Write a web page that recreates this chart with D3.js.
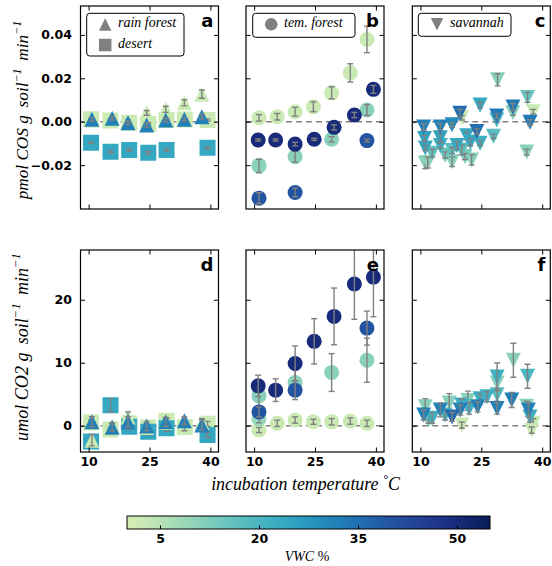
<!DOCTYPE html>
<html><head><meta charset="utf-8">
<script src="https://cdn.jsdelivr.net/npm/d3@7"></script>
<style>body{margin:0;background:#fff} svg{display:block}</style>
</head><body>
<svg id="chart" width="552" height="566"></svg>
<script>
// ================= DATA =================
const xTicks = [10, 25, 40];
const cosTicks = [-0.02, 0, 0.02, 0.04];
const co2Ticks = [0, 10, 20];
const vwcTicks = [5, 20, 35, 50];
const panelLetters = ["a", "b", "c", "d", "e", "f"];

// --- rain forest (triangles) & desert (squares) ---
const rfTemps = [10.8, 15.8, 19.7, 24.3, 29.0, 33.6, 37.9];
const deTemps = [10.6, 15.4, 20.0, 24.7, 29.2, 33.7, 39.3];
const rfWetVWC = 32, rfDryVWC = 2, deWetVWC = 24, deDryVWC = 2;

const rfWetCOS = [0.0011, 0.0016, -0.0005, -0.0015, 0.0008, 0.0011, 0.0023];
const rfWetCOSErr = [0.0008, 0.0008, 0.0008, 0.0010, 0.0008, 0.0008, 0.0010];
const rfDryCOS = [0.0008, 0.0012, 0.0000, 0.0041, 0.0057, 0.0087, 0.0127];
const rfDryCOSErr = [0.0008, 0.0008, 0.0008, 0.0011, 0.0014, 0.0014, 0.0019];
const deWetCOS = [-0.0097, -0.0138, -0.0130, -0.0143, -0.0130, null, -0.0120];
const deWetCOSErr = [0.0004, 0.0005, 0.0005, 0.0006, 0.0005, null, 0.0005];
const deDryCOS = [0.0011, 0.0006, -0.0005, -0.0010, 0.0008, 0.0010, 0.0008];
const deDryCOSErr = [0.0005, 0.0005, 0.0005, 0.0005, 0.0005, 0.0005, 0.0005];

const rfWetCO2 = [0.63, -0.25, 0.63, -0.05, 0.63, 0.79, 0.11];
const rfWetCO2Err = [0.8, 0.6, 0.8, 0.7, 0.7, 0.6, 0.8];
const rfDryCO2 = [-2.3, -0.1, 1.4, -0.3, 0.5, -0.2, 0.5];
const rfDryCO2Err = [0.9, 0.6, 0.8, 0.6, 0.6, 0.6, 0.6];
const deWetCO2 = [-2.5, 3.27, -0.15, -0.95, -0.4, null, -1.47];
const deWetCO2Err = [0.5, 1.0, 0.5, 0.5, 0.5, null, 0.4];
const deDryCO2 = [0.5, -0.6, 0.4, -0.3, 0.8, -0.2, 0.3];
const deDryCO2Err = [0.4, 0.4, 0.4, 0.4, 0.4, 0.4, 0.4];

// --- temperate forest (circles) ---
const tfDryVWC = 2, tfExtraVWC = 9, tfMidVWC = 11, tfBlueVWC = 40, tfNavyVWC = 50;
const tfDryTemps = [11.2, 15.7, 20.1, 24.6, 29.1, 33.7, 37.8];
const tfDryCOS = [0.0018, 0.0023, 0.0046, 0.0069, 0.0133, 0.0225, 0.0379];
const tfDryCOSErr = [0.0015, 0.0015, 0.0020, 0.0023, 0.0028, 0.0042, 0.0061];
const tfDryCO2 = [-0.68, 0.38, 0.90, 0.63, 0.63, 0.74, 0.38];
const tfDryCO2Err = [0.4, 0.5, 0.5, 0.4, 0.5, 0.5, 0.5];
const tfExtraTemps = [11.2];
const tfExtraCOS = [-0.0200];
const tfExtraCOSErr = [0.0010];
const tfExtraCO2 = [1.06];
const tfExtraCO2Err = [0.6];
const tfMidTemps = [11.2, 20.1, 29.1, 37.8];
const tfMidCOS = [-0.0204, -0.0161, -0.0081, 0.0054];
const tfMidCOSErr = [0.0031, 0.0025, 0.0012, 0.0025];
const tfMidCO2 = [4.75, 6.87, 8.45, 10.4];
const tfMidCO2Err = [2.1, 2.0, 3.0, 3.5];
const tfBlueTemps = [11.2, 20.1, 37.8];
const tfBlueCOS = [-0.0352, -0.0326, -0.0087];
const tfBlueCOSErr = [0.0025, 0.0020, 0.0006];
const tfBlueCO2 = [2.2, 5.65, 15.5];
const tfBlueCO2Err = [0.8, 1.5, 2.7];
const tfNavyTemps = [11.0, 15.3, 20.1, 24.8, 29.7, 34.7, 39.4];
const tfNavyCOS = [-0.0084, -0.0084, -0.0103, -0.0081, -0.0026, 0.0031, 0.0149];
const tfNavyCOSErr = [0.0005, 0.0005, 0.0008, 0.0005, 0.0012, 0.0012, 0.0018];
const tfNavyCO2 = [6.33, 5.65, 9.87, 13.4, 17.36, 22.5, 23.6];
const tfNavyCO2Err = [1.7, 1.8, 2.8, 3.6, 4.5, 5.6, 6.3];

// --- savannah (down triangles), panel c (COS) ---
const savCTemps = [29.0, 36.4, 24.7, 19.7, 20.2, 32.8, 32.8, 37.8, 28.8, 28.8, 37.0, 10.8, 14.9, 17.8, 23.9, 28.0, 11.0, 14.9, 21.4, 11.2, 14.9, 19.0, 22.3, 24.7, 17.8, 20.2, 12.9, 11.2, 11.8, 17.8, 22.6, 36.2, 21.0, 16.1];
const savCVWC = [11, 15, 24, 35, 2, 33, 11, 2, 33, 20, 33, 32, 32, 30, 35, 18, 25, 25, 24, 24, 22, 24, 24, 22, 17, 17, 16, 11, 11, 11, 11, 11, 13, 15];
const savCOS = [0.0193, 0.0112, 0.0077, 0.0039, 0.0018, 0.0068, 0.0041, 0.0046, 0.0026, 0.0008, -0.0003, -0.0024, -0.0024, -0.0014, -0.0045, -0.0067, -0.0077, -0.0074, -0.0065, -0.0121, -0.0110, -0.0110, -0.0095, -0.0099, -0.0133, -0.0130, -0.0145, -0.0191, -0.0188, -0.0184, -0.0176, -0.0140, -0.0160, -0.0153];
const savCOSErr = [0.0028, 0.0023, 0.0013, 0.0018, 0.0010, 0.0016, 0.0012, 0.0011, 0.0010, 0.0011, 0.0012, 0.0015, 0.0015, 0.0010, 0.0012, 0.0010, 0.0014, 0.0018, 0.0018, 0.0012, 0.0012, 0.0018, 0.0016, 0.0012, 0.0014, 0.0022, 0.0018, 0.0025, 0.0025, 0.0022, 0.0024, 0.0014, 0.0014, 0.0014];

// --- savannah, panel f (CO2) ---
const savFTemps = [32.9, 28.9, 28.9, 36.4, 32.5, 28.9, 28.9, 24.7, 24.1, 21.7, 17.1, 11.2, 10.8, 14.9, 19.8, 17.8, 12.9, 16.1, 20.2, 22.0, 20.2, 36.6, 37.0, 36.2, 37.8, 37.4, 12.0, 26.4];
const savFVWC = [11, 22, 11, 20, 32, 18, 32, 22, 32, 11, 11, 11, 32, 32, 32, 36, 22, 20, 22, 22, 2, 32, 22, 11, 2, 2, 15, 22];
const savCO2 = [10.4, 7.75, 6.8, 7.85, 4.1, 4.9, 2.75, 4.3, 3.0, 4.0, 3.6, 3.0, 1.7, 2.5, 2.5, 1.4, 1.2, 1.7, 3.3, 2.75, 0.1, 2.5, 1.4, 3.1, 0.4, -0.7, 1.0, 4.6];
const savCO2Err = [2.7, 2.2, 1.5, 1.9, 1.2, 1.0, 0.9, 0.8, 0.8, 1.5, 1.5, 1.3, 0.8, 1.1, 0.8, 0.7, 0.8, 0.8, 0.9, 0.9, 0.5, 1.1, 0.8, 0.8, 0.7, 0.5, 0.6, 0.8];

// ================= DRAWING =================
const svg = d3.select("#chart");
const GREY = "#808080";
const FONT_SANS = "'DejaVu Sans', sans-serif";
const FONT_SERIF = "'Liberation Serif', 'DejaVu Serif', serif";
const vwcMax = 55;
const colorOf = v => d3.interpolateYlGnBu(0.2 + 0.8 * Math.max(0, Math.min(1, v / vwcMax)));

const colX = [80.5, 246, 412.3];
const pw = 138;
const rows = [{y0: 6, h: 203}, {y0: 250, h: 202}];
const xDomain = [8, 42];
const cosDomain = [-0.0402, 0.0533];
const co2Domain = [-4.17, 27.9];

function series(shape, vwc, temps, vals, errs) {
  const out = [];
  temps.forEach((t, i) => {
    if (vals[i] === null || vals[i] === undefined) return;
    out.push({shape, vwc, t, v: vals[i], e: errs[i]});
  });
  return out;
}
function pointsFrom(shape, temps, vwcs, vals, errs) {
  return temps.map((t, i) => ({shape, vwc: vwcs[i], t, v: vals[i], e: errs[i]}))
    .sort((a, b) => a.vwc - b.vwc);
}

function markerPath(shape, s) {
  const h = s / 2;
  if (shape === "tri") return `M0,${-h}L${h},${h}L${-h},${h}Z`;
  if (shape === "dtri") return `M0,${h}L${h},${-h}L${-h},${-h}Z`;
  if (shape === "sq") return `M${-h},${-h}H${h}V${h}H${-h}Z`;
  return d3.symbol(d3.symbolCircle, Math.PI * h * h)();
}
const markerSize = {tri: 15, dtri: 15, sq: 16, circ: 15};

let clipId = 0;
function drawPanel(col, row, yScale, yTicks, yFmt, items, letter) {
  const x0 = colX[col], y0 = rows[row].y0, h = rows[row].h;
  const x = d3.scaleLinear().domain(xDomain).range([x0, x0 + pw]);
  const y = yScale.copy().range([y0 + h, y0]);
  const g = svg.append("g");
  const cid = "clip" + (clipId++);
  g.append("clipPath").attr("id", cid).append("rect")
    .attr("x", x0).attr("y", y0).attr("width", pw).attr("height", h);
  const pg = g.append("g").attr("clip-path", `url(#${cid})`);
  // zero line
  pg.append("line").attr("x1", x0).attr("x2", x0 + pw)
    .attr("y1", y(0)).attr("y2", y(0))
    .attr("stroke", GREY).attr("stroke-width", 1.5).attr("stroke-dasharray", "6,4");
  // markers + error bars (per series)
  items.forEach(ser => {
    ser.forEach(p => {
      pg.append("path").attr("d", markerPath(p.shape, markerSize[p.shape]))
        .attr("transform", `translate(${x(p.t)},${y(p.v)})`)
        .attr("fill", colorOf(p.vwc));
    });
    ser.forEach(p => {
      const cx = x(p.t), ya = y(p.v - p.e), yb = y(p.v + p.e);
      const eg = pg.append("g").attr("stroke", GREY).attr("stroke-width", 1.4).attr("fill", "none");
      eg.append("line").attr("x1", cx).attr("x2", cx).attr("y1", ya).attr("y2", yb);
      eg.append("line").attr("x1", cx - 3).attr("x2", cx + 3).attr("y1", ya).attr("y2", ya);
      eg.append("line").attr("x1", cx - 3).attr("x2", cx + 3).attr("y1", yb).attr("y2", yb);
    });
  });
  // axes (ticks inward on all sides)
  const tk = 4.5;
  const styleAxis = sel => {
    sel.select(".domain").remove();
    sel.selectAll(".tick line").attr("stroke", "#000").attr("stroke-width", 1);
    sel.selectAll(".tick text").attr("font-family", FONT_SANS).attr("font-weight", "bold")
      .attr("font-size", 12.5).attr("fill", "#000");
  };
  g.append("g").attr("transform", `translate(${x0},0)`)
    .call(d3.axisLeft(y).tickValues(yTicks).tickSize(-tk).tickPadding(8.5)
      .tickFormat(col === 0 ? yFmt : () => "")).call(styleAxis);
  g.append("g").attr("transform", `translate(${x0 + pw},0)`)
    .call(d3.axisRight(y).tickValues(yTicks).tickSize(-tk).tickFormat(() => "")).call(styleAxis);
  g.append("g").attr("transform", `translate(0,${y0 + h})`)
    .call(d3.axisBottom(x).tickValues(xTicks).tickSize(-tk).tickPadding(5)
      .tickFormat(row === 1 ? d3.format("d") : () => "")).call(styleAxis);
  g.append("g").attr("transform", `translate(0,${y0})`)
    .call(d3.axisTop(x).tickValues(xTicks).tickSize(-tk).tickFormat(() => "")).call(styleAxis);
  // frame
  g.append("rect").attr("x", x0).attr("y", y0).attr("width", pw).attr("height", h)
    .attr("fill", "none").attr("stroke", "#000").attr("stroke-width", 1.2);
  // letter
  g.append("text").attr("x", x0 + pw - 5).attr("y", y0 + 21).attr("text-anchor", "end")
    .attr("font-family", FONT_SANS).attr("font-weight", "bold").attr("font-size", 18)
    .text(letter);
  return g;
}

const yCOS = d3.scaleLinear().domain(cosDomain);
const yCO2 = d3.scaleLinear().domain(co2Domain);
const cosFmt = d3.format(".2f");
const co2Fmt = d3.format("d");

// panel a
drawPanel(0, 0, yCOS, cosTicks, cosFmt, [
  series("sq", deDryVWC, deTemps, deDryCOS, deDryCOSErr),
  series("sq", deWetVWC, deTemps, deWetCOS, deWetCOSErr),
  series("tri", rfDryVWC, rfTemps, rfDryCOS, rfDryCOSErr),
  series("tri", rfWetVWC, rfTemps, rfWetCOS, rfWetCOSErr)
], panelLetters[0]);
// panel b
drawPanel(1, 0, yCOS, cosTicks, cosFmt, [
  series("circ", tfDryVWC, tfDryTemps, tfDryCOS, tfDryCOSErr),
  series("circ", tfExtraVWC, tfExtraTemps, tfExtraCOS, tfExtraCOSErr),
  series("circ", tfMidVWC, tfMidTemps, tfMidCOS, tfMidCOSErr),
  series("circ", tfBlueVWC, tfBlueTemps, tfBlueCOS, tfBlueCOSErr),
  series("circ", tfNavyVWC, tfNavyTemps, tfNavyCOS, tfNavyCOSErr)
], panelLetters[1]);
// panel c
drawPanel(2, 0, yCOS, cosTicks, cosFmt,
  pointsFrom("dtri", savCTemps, savCVWC, savCOS, savCOSErr).map(p => [p]), panelLetters[2]);
// panel d
drawPanel(0, 1, yCO2, co2Ticks, co2Fmt, [
  series("sq", deDryVWC, deTemps, deDryCO2, deDryCO2Err),
  series("sq", deWetVWC, deTemps, deWetCO2, deWetCO2Err),
  series("tri", rfDryVWC, rfTemps, rfDryCO2, rfDryCO2Err),
  series("tri", rfWetVWC, rfTemps, rfWetCO2, rfWetCO2Err)
], panelLetters[3]);
// panel e
drawPanel(1, 1, yCO2, co2Ticks, co2Fmt, [
  series("circ", tfDryVWC, tfDryTemps, tfDryCO2, tfDryCO2Err),
  series("circ", tfExtraVWC, tfExtraTemps, tfExtraCO2, tfExtraCO2Err),
  series("circ", tfMidVWC, tfMidTemps, tfMidCO2, tfMidCO2Err),
  series("circ", tfBlueVWC, tfBlueTemps, tfBlueCO2, tfBlueCO2Err),
  series("circ", tfNavyVWC, tfNavyTemps, tfNavyCO2, tfNavyCO2Err)
], panelLetters[4]);
// panel f
drawPanel(2, 1, yCO2, co2Ticks, co2Fmt,
  pointsFrom("dtri", savFTemps, savFVWC, savCO2, savCO2Err).map(p => [p]), panelLetters[5]);

// ---------- legends ----------
function legendBox(x, y, w, h) {
  svg.append("rect").attr("x", x).attr("y", y).attr("width", w).attr("height", h)
    .attr("rx", 3).attr("fill", "#fff").attr("stroke", "#000").attr("stroke-width", 1);
}
function legendItem(shape, mx, my, tx, ty, label, size) {
  svg.append("path").attr("d", markerPath(shape, size)).attr("transform", `translate(${mx},${my})`)
    .attr("fill", GREY);
  svg.append("text").attr("x", tx).attr("y", ty).attr("font-family", FONT_SERIF)
    .attr("font-style", "italic").attr("font-size", 14).text(label);
}
legendBox(86.7, 13.3, 97.3, 42.7);
legendItem("tri", 105.2, 24.5, 118, 27, "rain forest", 12.5);
legendItem("sq", 105.2, 45, 118, 48, "desert", 12.5);
legendBox(252.7, 13.3, 102.3, 24);
legendItem("circ", 271.2, 24.3, 284, 27, "tem. forest", 12.5);
legendBox(418.3, 13.3, 92.7, 23);
legendItem("dtri", 437, 24.2, 450, 27.3, "savannah", 12.5);

// ---------- math-like labels ----------
function buildMath(parent, parts, fs, attrs) {
  const t = parent.append("text").attr("font-family", FONT_SERIF).attr("font-size", fs)
    .attr("text-anchor", "middle").attr("fill", "#000");
  Object.entries(attrs).forEach(([k, v]) => t.attr(k, v));
  let raised = false;
  parts.forEach(p => {
    const ts = t.append("tspan").text(p.t);
    if (p.italic !== false) ts.attr("font-style", "italic");
    let dy = 0;
    if (p.sup) { ts.attr("font-size", fs * 0.7); if (!raised) { dy = -fs * 0.42; raised = true; } }
    else if (raised) { dy = fs * 0.42; raised = false; }
    if (dy) ts.attr("dy", dy);
    if (p.gap) ts.attr("dx", p.gap * fs);
  });
  return t;
}
function fitMath(parts, fs, attrs, target) {
  const tmp = buildMath(svg, parts, fs, attrs);
  const w = tmp.node().getBBox().width;
  tmp.remove();
  return buildMath(svg, parts, fs * target / w, attrs);
}
const yLabelTop = [
  {t: "pmol COS g"}, {t: "soil", gap: 0.45}, {t: "−1", sup: true},
  {t: "min", gap: 0.45}, {t: "−1", sup: true}
];
const yLabelBot = [
  {t: "umol CO2 g"}, {t: "soil", gap: 0.45}, {t: "−1", sup: true},
  {t: "min", gap: 0.45}, {t: "−1", sup: true}
];
fitMath(yLabelTop, 15, {transform: "translate(28,110) rotate(-90)"}, 180);
fitMath(yLabelBot, 15, {transform: "translate(28,347) rotate(-90)"}, 188);
fitMath([{t: "incubation temperature "}, {t: "°", sup: true}, {t: "C"}], 15,
  {x: 305.5, y: 490}, 190);

// ---------- colorbar ----------
const cbX0 = 127, cbX1 = 490, cbY = 516, cbH = 13;
const cbScale = d3.scaleLinear().domain([0, vwcMax]).range([cbX0, cbX1]);
const grad = svg.append("defs").append("linearGradient").attr("id", "cbgrad")
  .attr("x1", "0%").attr("x2", "100%").attr("y1", "0%").attr("y2", "0%");
d3.range(0, 1.0001, 0.05).forEach(f => {
  grad.append("stop").attr("offset", (f * 100) + "%").attr("stop-color", colorOf(f * vwcMax));
});
svg.append("rect").attr("x", cbX0).attr("y", cbY).attr("width", cbX1 - cbX0).attr("height", cbH)
  .attr("fill", "url(#cbgrad)").attr("stroke", "#000").attr("stroke-width", 1);
const cbAxis = svg.append("g").attr("transform", `translate(0,${cbY + cbH})`)
  .call(d3.axisBottom(cbScale).tickValues(vwcTicks).tickSize(-3.5).tickPadding(5).tickFormat(d3.format("d")));
cbAxis.select(".domain").remove();
cbAxis.selectAll(".tick line").attr("stroke", "#000").attr("stroke-width", 1);
cbAxis.selectAll(".tick text").attr("font-family", FONT_SANS).attr("font-weight", "bold")
  .attr("font-size", 12.5).attr("fill", "#000");
fitMath([{t: "VWC"}, {t: " %", italic: false}], 14, {x: 307, y: 561}, 45);
</script>
</body></html>
